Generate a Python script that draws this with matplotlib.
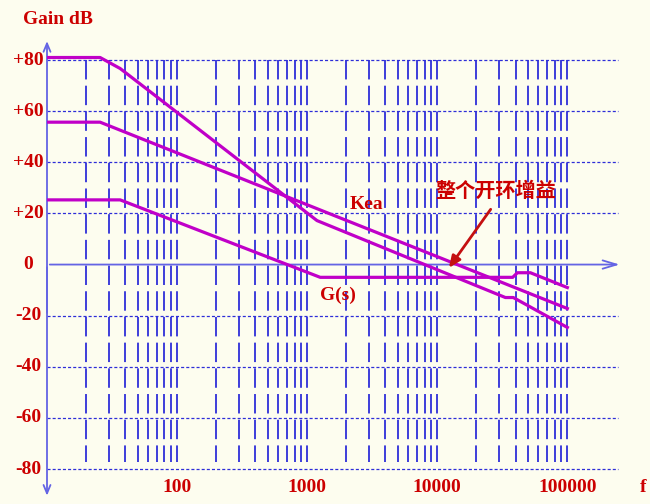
import numpy as np
import matplotlib.pyplot as plt
import matplotlib.transforms as mtransforms

plt.rcParams['lines.scale_dashes'] = False

# data
freq_labels = [100, 1000, 10000, 100000]
gain_ticks = [80, 60, 40, 20, 0, -20, -40, -60, -80]
gain_labels = ['+80', '+60', '+40', '+20', '0', '-20', '-40', '-60', '-80']

total_f = [10, 25.6, 36.5, 1190, 33400, 38400, 100000]
total_db = [81, 81, 76.7, 17.2, -12.9, -12.9, -24.6]

kea_f = [10, 25.6, 100000]
kea_db = [55.7, 55.7, -17.2]

g_f = [10, 36.5, 1260, 38000, 41300, 52000, 100000]
g_db = [25.3, 25.3, -5, -5, -3.2, -3.2, -9]

BG = '#fdfdef'
RED = '#cc0000'
GRID = '#2e2ed8'
AXIS = '#6464e4'
MAGENTA = '#c000c8'

fig = plt.figure(figsize=(6.5, 5.04), dpi=100, facecolor=BG)
ax = fig.add_axes([47 / 650, 0.0085, 601 / 650, 0.9129])
ax.set_facecolor(BG)
ax.set_xscale('log')
ax.set_xlim(10, 10 ** 5.62)
ax.set_ylim(-92, 88)
for s in ax.spines.values():
    s.set_visible(False)
ax.set_xticks([])
ax.set_yticks([])
ax.minorticks_off()

# vertical grid (log decades)
xgrid = [m * 10 ** k for k in range(1, 5) for m in range(2, 10)] + [100000]
xgrid = sorted(set(xgrid + [100, 1000, 10000]))
for xv in xgrid:
    ax.plot([xv, xv], [80, -77.3], color=GRID, lw=1.3,
            ls=(0, (14, 4.5)), zorder=1)

# horizontal grid
for yv in gain_ticks:
    if yv == 0:
        continue
    ax.plot([10, 2.43e5], [yv, yv], color=GRID, lw=0.9,
            ls=(0, (2.2, 1.5)), zorder=1)

# axes with arrows
ax.annotate('', xy=(2.65e5, 0), xytext=(10, 0), annotation_clip=False,
            arrowprops=dict(arrowstyle='->,head_length=1.0,head_width=0.3',
                            color=AXIS, lw=1.3), zorder=2)
ax.annotate('', xy=(10, 88.5), xytext=(10, -20), annotation_clip=False,
            arrowprops=dict(arrowstyle='->,head_length=0.6,head_width=0.25',
                            color=AXIS, lw=1.3), zorder=2)
ax.annotate('', xy=(10, -91.5), xytext=(10, 0), annotation_clip=False,
            arrowprops=dict(arrowstyle='->,head_length=0.6,head_width=0.25',
                            color=AXIS, lw=1.3), zorder=2)

# curves
ax.plot(total_f, total_db, color=MAGENTA, lw=2.3, zorder=3, solid_joinstyle='round')
ax.plot(kea_f, kea_db, color=MAGENTA, lw=2.3, zorder=3, solid_joinstyle='round')
ax.plot(g_f, g_db, color=MAGENTA, lw=2.3, zorder=3, solid_joinstyle='round')

serif = dict(family='Liberation Serif', weight='bold', color=RED, fontsize=14)

# y labels
trans = mtransforms.blended_transform_factory(fig.transFigure, ax.transData)
for yv, lab in zip(gain_ticks, gain_labels):
    ax.text(28.5 / 650, yv, lab, transform=trans, ha='center', va='center', **serif)

# x labels
for xv in freq_labels:
    ax.text(xv, -87.3, str(xv), ha='center', va='center', **serif)
ax.text(10 ** 5.585, -87.3, 'f', ha='center', va='center', **serif)

fig.text(58 / 650, 1 - 20 / 504, 'Gain dB', ha='center', va='center', **serif)

ax.text(10 ** (1 + 319 / 130), 23.5, 'Kea', ha='center', va='center', **serif)
ax.text(10 ** (1 + 291 / 130), -12, 'G(s)', ha='center', va='center', **serif)

ax.text(10 ** (1 + 448 / 130), 29, '整个开环增益', ha='center', va='center',
        family=['Noto Sans CJK SC', 'DejaVu Sans'], weight='bold',
        fontsize=14.5, color=RED)

ax.annotate('', xy=(10 ** (1 + 400 / 130), -2.2), xytext=(10 ** (1 + 445 / 130), 22.5),
            arrowprops=dict(arrowstyle='-|>,head_length=0.7,head_width=0.3',
                            color='#c41010', lw=2.0), zorder=4)

plt.savefig('out.png', dpi=100, facecolor=BG)
